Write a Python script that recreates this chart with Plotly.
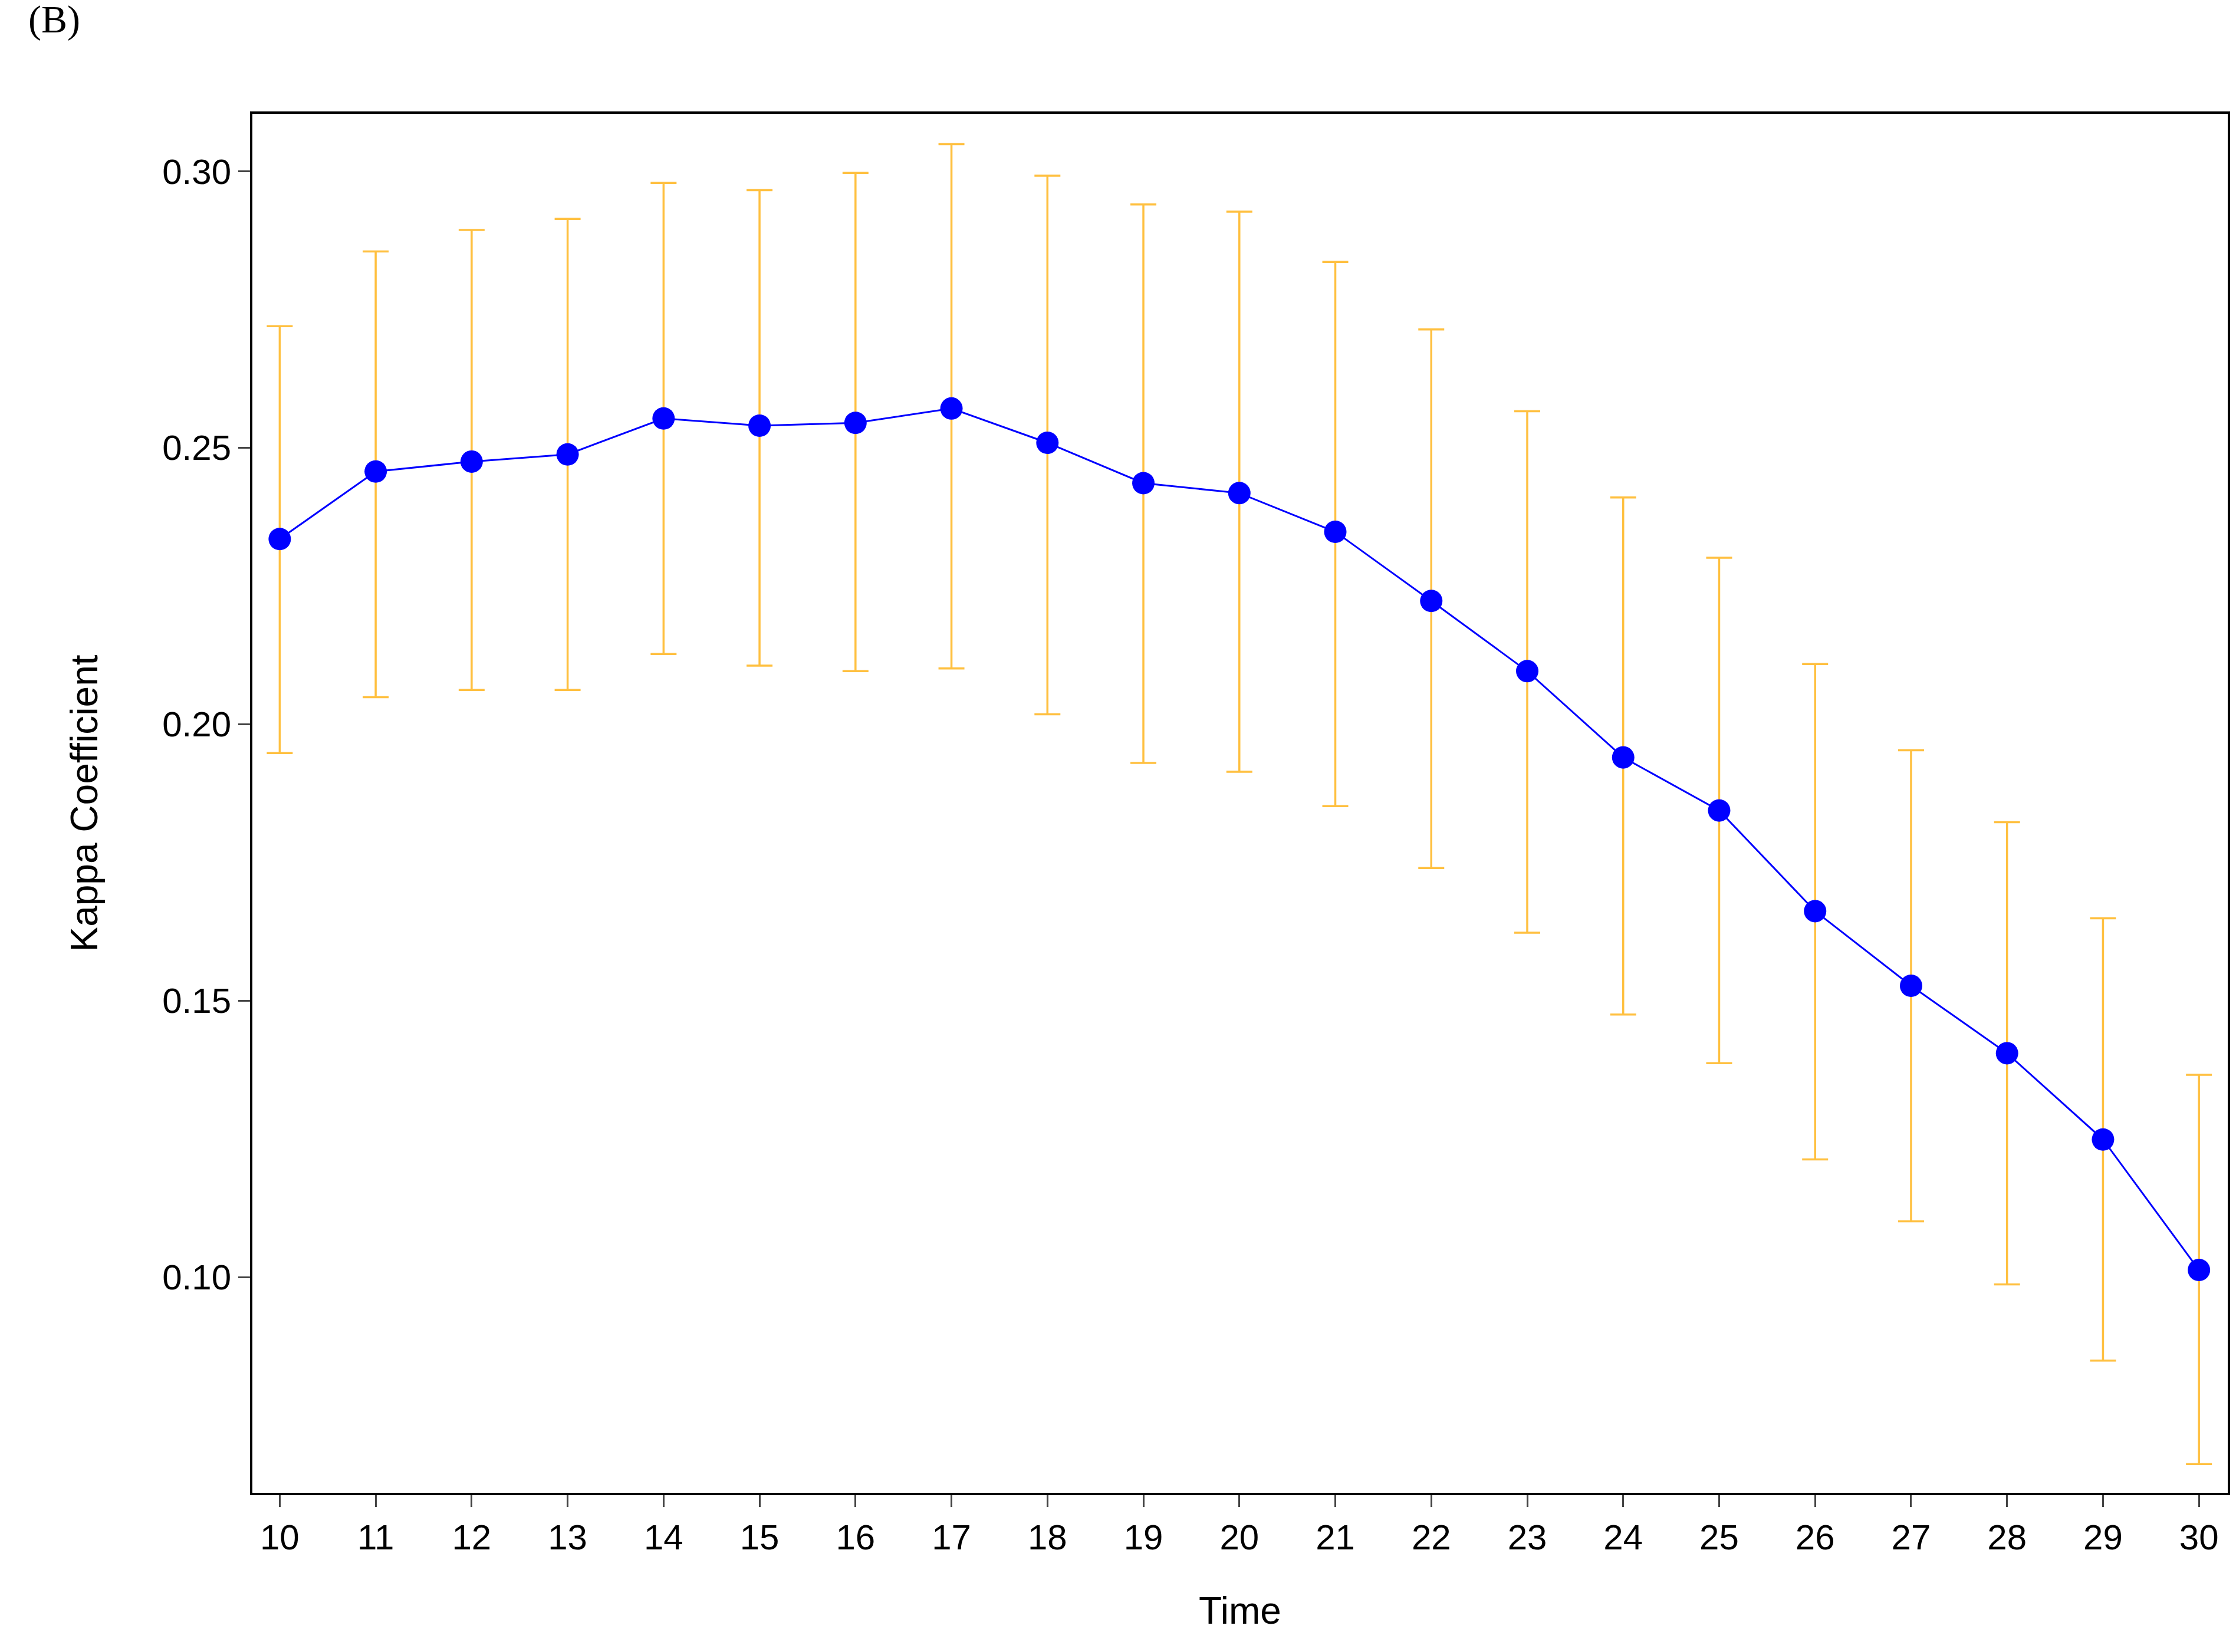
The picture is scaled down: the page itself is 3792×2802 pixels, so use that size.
import plotly.graph_objects as go

time = list(range(10, 31))
kappa = [0.2335, 0.2457, 0.2475, 0.2488, 0.2553, 0.2540, 0.2545, 0.2571, 0.2509, 0.2436, 0.2418,
         0.2348, 0.2223, 0.2096, 0.1940, 0.1844, 0.1662, 0.1527, 0.1405, 0.1249, 0.1013]
upper = [0.2720, 0.2855, 0.2894, 0.2914, 0.2979, 0.2966, 0.2997, 0.3049, 0.2992, 0.2940, 0.2927,
         0.2836, 0.2714, 0.2566, 0.2410, 0.2301, 0.2109, 0.1953, 0.1823, 0.1649, 0.1366]
lower = [0.1948, 0.2049, 0.2062, 0.2062, 0.2127, 0.2106, 0.2096, 0.2101, 0.2018, 0.1930, 0.1914,
         0.1852, 0.1740, 0.1623, 0.1475, 0.1387, 0.1213, 0.1101, 0.0987, 0.0849, 0.0662]

err_plus = [u - k for u, k in zip(upper, kappa)]
err_minus = [k - l for k, l in zip(kappa, lower)]

fig = go.Figure()
fig.add_trace(go.Scatter(
    x=time, y=kappa, mode='lines+markers',
    line=dict(color='#0000FF', width=3),
    marker=dict(color='#0000FF', size=38),
    error_y=dict(type='data', symmetric=False, array=err_plus, arrayminus=err_minus,
                 color='#FFC040', thickness=3.5, width=22),
    showlegend=False))

axis_font = dict(family='Liberation Sans, Arial', size=60, color='black')
fig.update_layout(
    width=3792, height=2802,
    plot_bgcolor='white', paper_bgcolor='white',
    margin=dict(l=420, r=22, t=185, b=278),
    font=axis_font,
    xaxis=dict(range=[9.715, 30.3], tickvals=time, ticks='outside', ticklen=20, tickwidth=3,
               showgrid=False, zeroline=False, showline=True, linecolor='black', linewidth=4,
               mirror=True, title=dict(text='Time', font=dict(size=64), standoff=70)),
    yaxis=dict(range=[0.061, 0.3104], tickvals=[0.10, 0.15, 0.20, 0.25, 0.30], tickformat='.2f',
               ticks='outside', ticklen=20, tickwidth=3,
               showgrid=False, zeroline=False, showline=True, linecolor='black', linewidth=4,
               mirror=True, title=dict(text='Kappa Coefficient', font=dict(size=64), standoff=90)),
    annotations=[dict(text='(B)', x=-0.114, y=1.085, xref='paper', yref='paper',
                      xanchor='left', yanchor='top', showarrow=False,
                      font=dict(family='Liberation Serif, Times New Roman', size=66, color='black'))]
)

fig.write_html("out.html")
